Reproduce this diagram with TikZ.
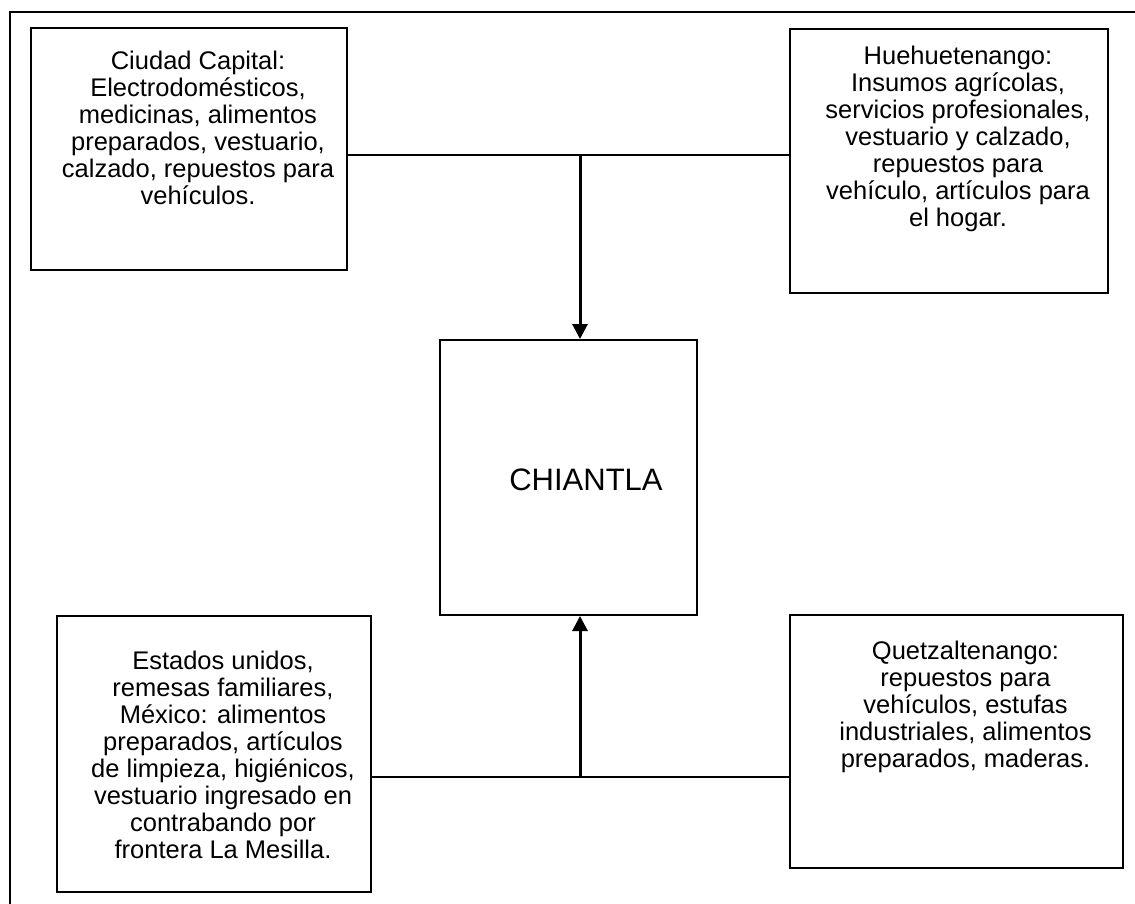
\documentclass[tikz,border=0pt]{standalone}
\usepackage{fontspec}
\setmainfont{Liberation Sans}
\usepackage{tikz}
\usetikzlibrary{arrows.meta}
\tikzstyle{area} = [rectangle, draw=black, line width=2pt, inner sep=0pt]
\tikzstyle{areatext} = [anchor=north, align=center, inner sep=0pt, xshift=9pt, font=\fontsize{25.5}{27}\selectfont]
\tikzstyle{link} = [line width=2pt]
\tikzstyle{arrow} = [line width=3pt, -{Triangle[width=15pt,length=15pt]}]

\begin{document}
\begin{tikzpicture}[x=1pt, y=-1pt]
\useasboundingbox (0,0) rectangle (1135,904);

% Frame (top and left side only)
\draw [link] (1135,12) -- (10,12) -- (10,904);

% Origins
\node (capital) [area, minimum width=316pt, minimum height=242pt,
  label={[areatext, yshift=-24pt]north:{Ciudad Capital:\\Electrodomésticos,\\medicinas, alimentos\\preparados, vestuario,\\calzado, repuestos para\\vehículos.}}] at (189,149) {};
\node (huehue) [area, minimum width=318pt, minimum height=264pt,
  label={[areatext, yshift=-18pt]north:{Huehuetenango:\\Insumos agrícolas,\\servicios profesionales,\\vestuario y calzado,\\repuestos para\\vehículo, artículos para\\el hogar.}}] at (949,161) {};
\node (estados) [area, minimum width=314pt, minimum height=276pt,
  label={[areatext, yshift=-36pt]north:{Estados unidos,\\remesas familiares,\\México: alimentos\\preparados, artículos\\de limpieza, higiénicos,\\vestuario ingresado en\\contrabando por\\frontera La Mesilla.}}] at (214,754) {};
\node (quetzal) [area, minimum width=333pt, minimum height=253pt,
  label={[areatext, yshift=-27pt]north:{Quetzaltenango:\\repuestos para\\vehículos, estufas\\industriales, alimentos\\preparados, maderas.}}] at (956.5,741.5) {};

% Destination
\node (chiantla) [area, minimum width=257pt, minimum height=275pt,
  label={[font=\fontsize{31}{34}\selectfont, xshift=17.5pt, yshift=-2pt]center:CHIANTLA}] at (568.5,477.5) {};

% Joints
\coordinate (topjoin) at (580,155);
\coordinate (botjoin) at (580,777);

% Arrows
\draw [link] (capital.east |- topjoin) -- (huehue.west |- topjoin);
\draw [link] (estados.east |- botjoin) -- (quetzal.west |- botjoin);
\draw [arrow] (topjoin) -- (topjoin |- chiantla.north);
\draw [arrow] (botjoin) -- (botjoin |- chiantla.south);

\end{tikzpicture}
\end{document}
